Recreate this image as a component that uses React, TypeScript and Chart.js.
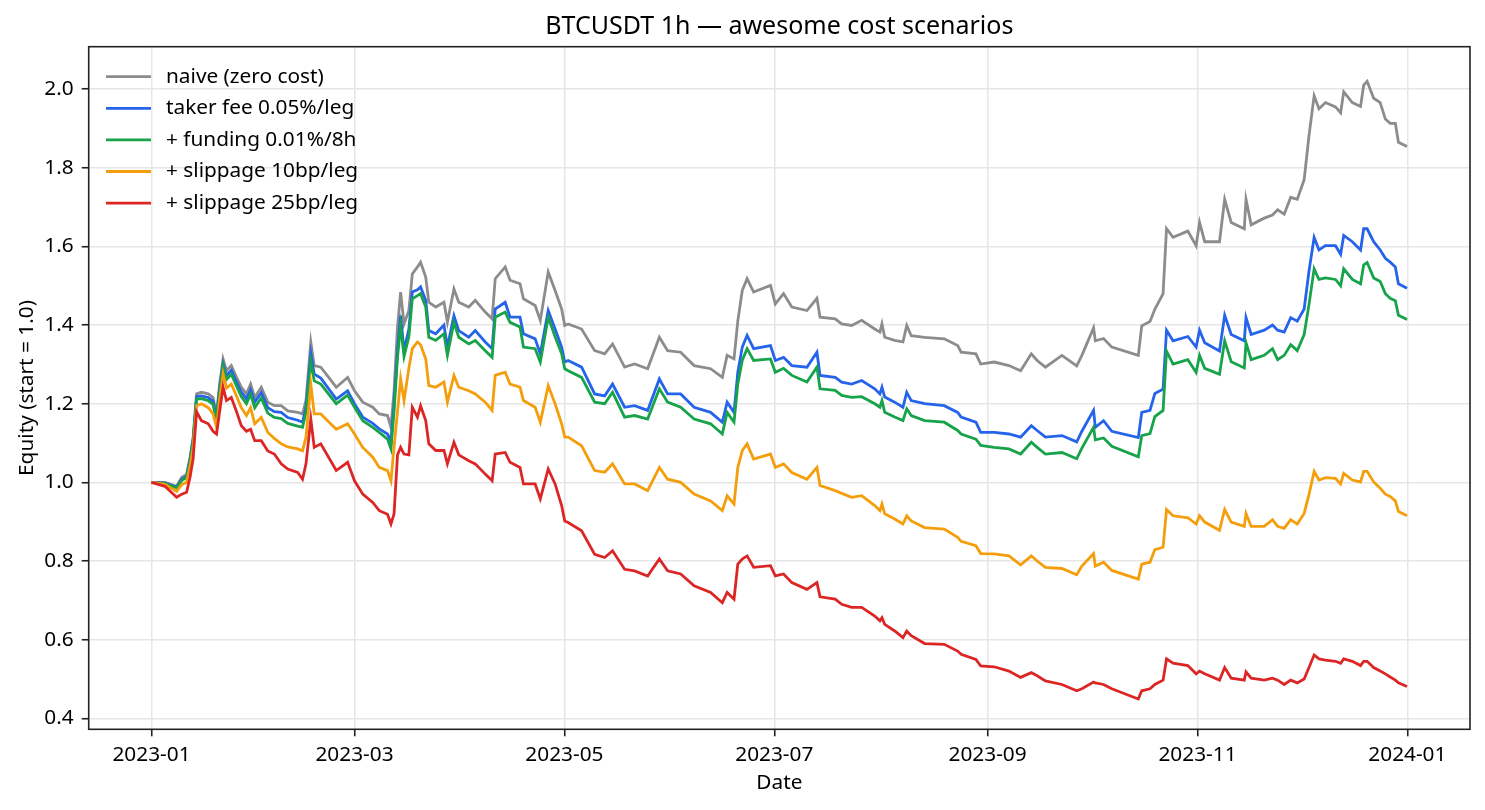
import React, { useEffect, useRef } from "react";
import { Chart, registerables } from "chart.js";

Chart.register(...registerables);

const FONT = "'Noto Sans', 'DejaVu Sans', sans-serif";
const TITLE = "BTCUSDT 1h — awesome cost scenarios";
const X_TITLE = "Date";
const Y_TITLE = "Equity (start = 1.0)";

// day offsets from 2023-01-01 00:00
const days = [
  0, 3.9, 7.3, 8.8, 10.2, 11.2, 12.1, 13.1, 14.5, 16.5, 17.9, 18.9, 19.8, 20.8, 21.8, 23.2, 24.7, 26.1, 27.6, 28.8, 30.0, 31.9, 33.8, 35.7, 37.7, 39.6, 42.5, 43.9, 44.9, 46.3, 47.3, 49.2,
  53.7, 57.0, 59.0, 61.4, 64.3, 66.2, 68.6, 69.6, 70.5, 71.5, 72.4, 73.4, 74.8, 75.8, 77.3, 78.2, 79.7, 80.6, 82.6, 85.0, 86.0, 87.9, 89.3, 92.2, 94.1, 97.0, 99.0, 99.9, 102.8, 104.2, 107.1, 108.1, 111.5, 113.0, 115.3, 117.3, 119.2, 120.1,
  121.1, 125.0, 128.8, 131.7, 134.0, 137.5, 140.4, 144.2, 147.6, 150.0, 153.8, 157.7, 162.5, 165.9, 167.3, 169.3, 170.4, 171.7, 173.1, 175.0, 179.9, 181.3, 183.7, 186.1, 190.5,
  193.4, 194.3, 198.7, 200.6, 203.5, 206.4, 210.2, 211.7, 212.3, 213.1, 216.0, 218.4, 219.5, 220.8, 224.7, 230.4, 234.3, 235.3, 239.6, 241.0, 244.9, 249.2, 252.6, 255.7, 257.4, 259.8,
  264.6, 268.9, 270.4, 273.8, 274.3, 276.7, 279.1, 286.8, 287.8, 290.2, 291.6, 294.0, 295.0, 296.9, 301.2, 303.6, 304.6, 306.1, 310.4, 311.9, 313.8, 317.6, 318.1,
  319.6, 323.4, 325.8, 327.3, 329.2, 331.1, 333.0, 335.0, 336.4, 337.9, 339.3, 341.2, 344.1, 345.6, 346.5, 349.0, 351.4, 352.3, 353.3, 355.2, 357.1, 358.6, 360.0, 361.5, 362.4, 364.9,
];

const naive = [
  1.0, 1.0, 0.99, 1.013, 1.02, 1.064, 1.115, 1.225, 1.229, 1.225, 1.216, 1.174, 1.25, 1.314, 1.284, 1.297, 1.267, 1.242, 1.225, 1.25, 1.216, 1.242, 1.204, 1.195, 1.195, 1.182, 1.178, 1.174, 1.208, 1.357, 1.297, 1.293,
  1.242, 1.267, 1.233, 1.204, 1.191, 1.174, 1.17, 1.14, 1.233, 1.395, 1.484, 1.403, 1.437, 1.53, 1.548, 1.56, 1.522, 1.458, 1.446, 1.458, 1.407, 1.492, 1.458, 1.446, 1.463, 1.433, 1.416, 1.518, 1.548, 1.514, 1.505, 1.467, 1.45, 1.412, 1.535, 1.488, 1.441, 1.399,
  1.403, 1.39, 1.335, 1.327, 1.352, 1.293, 1.301, 1.289, 1.369, 1.335, 1.331, 1.297, 1.289, 1.267, 1.323, 1.314, 1.41, 1.488, 1.518, 1.484, 1.501, 1.454, 1.48, 1.446, 1.437,
  1.468, 1.42, 1.416, 1.403, 1.399, 1.412, 1.39, 1.382, 1.403, 1.369, 1.361, 1.357, 1.399, 1.373, 1.369, 1.365, 1.348, 1.331, 1.327, 1.301, 1.306, 1.297, 1.284, 1.327, 1.31, 1.293,
  1.323, 1.296, 1.323, 1.393, 1.36, 1.366, 1.344, 1.323, 1.398, 1.409, 1.44, 1.48, 1.645, 1.623, 1.639, 1.602, 1.661, 1.612, 1.612, 1.72, 1.661, 1.645, 1.72,
  1.655, 1.672, 1.68, 1.693, 1.682, 1.725, 1.72, 1.77, 1.881, 1.983, 1.95, 1.966, 1.955, 1.94, 1.993, 1.966, 1.956, 2.01, 2.02, 1.977, 1.966, 1.924, 1.913, 1.913, 1.865, 1.854,
];

const takerFee = [
  1.0, 0.998, 0.988, 1.008, 1.015, 1.058, 1.108, 1.218, 1.22, 1.216, 1.206, 1.163, 1.24, 1.301, 1.272, 1.285, 1.255, 1.23, 1.212, 1.236, 1.204, 1.228, 1.19, 1.18, 1.178, 1.165, 1.158, 1.153, 1.19, 1.327, 1.275, 1.265,
  1.212, 1.233, 1.2, 1.166, 1.15, 1.136, 1.123, 1.106, 1.2, 1.335, 1.424, 1.335, 1.39, 1.484, 1.49, 1.497, 1.463, 1.386, 1.378, 1.4, 1.344, 1.424, 1.386, 1.369, 1.386, 1.357, 1.34, 1.441, 1.458, 1.42, 1.42, 1.378, 1.365, 1.327, 1.437, 1.39, 1.344, 1.306,
  1.31, 1.293, 1.225, 1.22, 1.25, 1.191, 1.195, 1.183, 1.263, 1.225, 1.225, 1.191, 1.178, 1.153, 1.204, 1.178, 1.28, 1.344, 1.374, 1.34, 1.348, 1.31, 1.318, 1.297, 1.293,
  1.331, 1.272, 1.267, 1.255, 1.25, 1.259, 1.238, 1.225, 1.242, 1.217, 1.204, 1.191, 1.229, 1.208, 1.2, 1.195, 1.178, 1.166, 1.153, 1.127, 1.127, 1.123, 1.115, 1.144, 1.132, 1.115,
  1.119, 1.103, 1.13, 1.183, 1.14, 1.157, 1.13, 1.114, 1.178, 1.183, 1.226, 1.237, 1.387, 1.36, 1.371, 1.344, 1.387, 1.355, 1.334, 1.425, 1.376, 1.36, 1.419,
  1.376, 1.387, 1.4, 1.387, 1.382, 1.419, 1.41, 1.441, 1.537, 1.623, 1.591, 1.602, 1.602, 1.58, 1.628, 1.612, 1.591, 1.645, 1.645, 1.612, 1.591, 1.57, 1.56, 1.548, 1.505, 1.494,
];

const funding = [
  1.0, 0.997, 0.986, 1.005, 1.012, 1.054, 1.104, 1.212, 1.213, 1.208, 1.198, 1.155, 1.232, 1.296, 1.262, 1.275, 1.245, 1.218, 1.2, 1.224, 1.19, 1.215, 1.176, 1.165, 1.162, 1.15, 1.143, 1.14, 1.178, 1.306, 1.258, 1.25,
  1.2, 1.222, 1.191, 1.157, 1.14, 1.127, 1.11, 1.085, 1.18, 1.318, 1.399, 1.32, 1.37, 1.467, 1.475, 1.48, 1.446, 1.369, 1.361, 1.378, 1.323, 1.407, 1.369, 1.352, 1.361, 1.335, 1.318, 1.42, 1.433, 1.407, 1.395, 1.344, 1.34, 1.306, 1.42, 1.37, 1.327, 1.289,
  1.284, 1.267, 1.204, 1.2, 1.229, 1.166, 1.17, 1.161, 1.238, 1.204, 1.191, 1.161, 1.149, 1.123, 1.178, 1.153, 1.25, 1.31, 1.34, 1.31, 1.314, 1.28, 1.29, 1.272, 1.255,
  1.293, 1.238, 1.234, 1.221, 1.216, 1.218, 1.2, 1.191, 1.208, 1.178, 1.166, 1.157, 1.187, 1.17, 1.157, 1.153, 1.132, 1.123, 1.11, 1.094, 1.089, 1.085, 1.072, 1.102, 1.089, 1.072,
  1.076, 1.06, 1.087, 1.14, 1.108, 1.113, 1.092, 1.065, 1.119, 1.124, 1.167, 1.183, 1.334, 1.301, 1.312, 1.28, 1.323, 1.29, 1.275, 1.36, 1.307, 1.291, 1.355,
  1.312, 1.323, 1.34, 1.312, 1.323, 1.35, 1.335, 1.376, 1.452, 1.543, 1.516, 1.52, 1.516, 1.5, 1.543, 1.516, 1.505, 1.553, 1.559, 1.52, 1.511, 1.48, 1.468, 1.462, 1.425, 1.414,
];

const slip10 = [
  1.0, 0.995, 0.977, 0.995, 1.0, 1.04, 1.088, 1.195, 1.2, 1.19, 1.174, 1.14, 1.21, 1.276, 1.24, 1.25, 1.22, 1.19, 1.17, 1.19, 1.149, 1.165, 1.127, 1.112, 1.098, 1.09, 1.085, 1.08, 1.115, 1.25, 1.174, 1.174,
  1.135, 1.149, 1.123, 1.089, 1.064, 1.038, 1.03, 1.004, 1.09, 1.18, 1.263, 1.208, 1.29, 1.34, 1.357, 1.35, 1.314, 1.246, 1.242, 1.255, 1.204, 1.272, 1.242, 1.233, 1.225, 1.204, 1.183, 1.272, 1.28, 1.25, 1.242, 1.208, 1.191, 1.153, 1.246, 1.2, 1.149, 1.115,
  1.115, 1.093, 1.03, 1.026, 1.047, 0.996, 0.996, 0.979, 1.038, 1.008, 1.0, 0.97, 0.953, 0.928, 0.966, 0.945, 1.038, 1.081, 1.098, 1.059, 1.072, 1.038, 1.047, 1.025, 1.008,
  1.038, 0.992, 0.979, 0.972, 0.962, 0.966, 0.941, 0.928, 0.945, 0.92, 0.907, 0.894, 0.915, 0.902, 0.885, 0.881, 0.86, 0.85, 0.839, 0.819, 0.818, 0.813, 0.79, 0.813, 0.8, 0.784,
  0.781, 0.765, 0.787, 0.819, 0.787, 0.797, 0.776, 0.754, 0.792, 0.797, 0.829, 0.835, 0.931, 0.915, 0.91, 0.894, 0.915, 0.899, 0.878, 0.931, 0.899, 0.888, 0.921,
  0.888, 0.888, 0.905, 0.888, 0.883, 0.905, 0.894, 0.921, 0.969, 1.028, 1.006, 1.012, 1.01, 0.996, 1.023, 1.006, 1.001, 1.028, 1.028, 1.001, 0.985, 0.97, 0.964, 0.953, 0.926, 0.915,
];

const slip25 = [
  1.0, 0.99, 0.962, 0.97, 0.975, 1.013, 1.06, 1.18, 1.157, 1.149, 1.13, 1.123, 1.18, 1.242, 1.208, 1.216, 1.18, 1.144, 1.13, 1.135, 1.106, 1.106, 1.08, 1.072, 1.047, 1.034, 1.025, 1.008, 1.047, 1.161, 1.089, 1.098,
  1.03, 1.051, 1.004, 0.97, 0.949, 0.928, 0.919, 0.894, 0.92, 1.07, 1.089, 1.072, 1.07, 1.191, 1.166, 1.195, 1.157, 1.098, 1.081, 1.081, 1.047, 1.102, 1.07, 1.055, 1.047, 1.021, 1.004, 1.072, 1.076, 1.051, 1.038, 0.996, 0.996, 0.958, 1.034, 0.996, 0.941, 0.902,
  0.898, 0.877, 0.817, 0.809, 0.826, 0.779, 0.775, 0.762, 0.805, 0.775, 0.767, 0.737, 0.72, 0.694, 0.72, 0.703, 0.792, 0.805, 0.813, 0.784, 0.788, 0.762, 0.767, 0.745, 0.728,
  0.745, 0.709, 0.703, 0.69, 0.682, 0.682, 0.66, 0.648, 0.656, 0.639, 0.622, 0.605, 0.622, 0.61, 0.59, 0.588, 0.571, 0.563, 0.55, 0.533, 0.531, 0.52, 0.504, 0.516, 0.508, 0.495,
  0.486, 0.47, 0.475, 0.492, 0.49, 0.486, 0.475, 0.449, 0.47, 0.475, 0.486, 0.497, 0.551, 0.54, 0.534, 0.513, 0.52, 0.513, 0.497, 0.529, 0.502, 0.497, 0.518,
  0.502, 0.497, 0.502, 0.497, 0.486, 0.497, 0.49, 0.5, 0.529, 0.561, 0.551, 0.548, 0.545, 0.54, 0.551, 0.545, 0.534, 0.545, 0.545, 0.529, 0.52, 0.513, 0.505, 0.497, 0.49, 0.481,
];

const seriesNames = [
  "naive (zero cost)",
  "taker fee 0.05%/leg",
  "+ funding 0.01%/8h",
  "+ slippage 10bp/leg",
  "+ slippage 25bp/leg",
];
const seriesColors = ["#8c8c8c", "#2563eb", "#16a34a", "#f59e0b", "#dc2626"];
const seriesValues = [naive, takerFee, funding, slip10, slip25];

const xTickDays = [0, 59, 120, 181, 243, 304, 365];
const xTickLabels = ["2023-01", "2023-03", "2023-05", "2023-07", "2023-09", "2023-11", "2024-01"];
const yTickValues = [0.4, 0.6, 0.8, 1.0, 1.2, 1.4, 1.6, 1.8, 2.0];

const decorPlugin = {
  id: "decor",
  afterDraw(chart: any) {
    const { ctx, chartArea: ca } = chart;
    ctx.save();
    ctx.strokeStyle = "#222";
    ctx.lineWidth = 1.6;
    ctx.strokeRect(ca.left, ca.top, ca.right - ca.left, ca.bottom - ca.top);

    ctx.fillStyle = "#000";
    ctx.textAlign = "center";
    ctx.textBaseline = "middle";
    const cx = (ca.left + ca.right) / 2;
    ctx.font = `25px ${FONT}`;
    ctx.fillText(TITLE, cx, 27);
    ctx.font = `20.8px ${FONT}`;
    ctx.fillText(X_TITLE, cx, 783);
    ctx.save();
    ctx.translate(27, (ca.top + ca.bottom) / 2);
    ctx.rotate(-Math.PI / 2);
    ctx.fillText(Y_TITLE, 0, 0);
    ctx.restore();

    // legend
    ctx.textAlign = "left";
    for (let i = 0; i < seriesNames.length; i++) {
      const y = 76.7 + i * 31.6;
      ctx.strokeStyle = seriesColors[i];
      ctx.lineWidth = 2.8;
      ctx.beginPath();
      ctx.moveTo(106, y);
      ctx.lineTo(151, y);
      ctx.stroke();
      ctx.fillStyle = "#000";
      ctx.fillText(seriesNames[i], 166, y);
    }
    ctx.restore();
  },
};

export default function App() {
  const ref = useRef<HTMLCanvasElement | null>(null);

  useEffect(() => {
    if (!ref.current) return;
    const datasets = seriesValues.map((vals, i) => ({
      label: seriesNames[i],
      data: days.map((d, j) => ({ x: d, y: vals[j] })),
      borderColor: seriesColors[i],
      backgroundColor: seriesColors[i],
      borderWidth: 2.8,
      pointRadius: 0,
      tension: 0,
      fill: false,
      order: seriesNames.length - 1 - i,
    }));
    const chart = new Chart(ref.current, {
      type: "line",
      data: { datasets },
      options: {
        animation: false,
        responsive: false,
        maintainAspectRatio: false,
        layout: { padding: { top: 46.7, right: 15, bottom: 0, left: 0 } },
        plugins: {
          legend: { display: false },
          title: { display: false },
          tooltip: { enabled: false },
        },
        scales: {
          x: {
            type: "linear",
            min: -18.25,
            max: 383.2,
            afterBuildTicks: (s: any) => {
              s.ticks = xTickDays.map((v) => ({ value: v }));
            },
            afterFit: (s: any) => {
              s.height = 80.7;
            },
            ticks: {
              autoSkip: false,
              maxRotation: 0,
              minRotation: 0,
              padding: 6,
              color: "#000",
              font: { family: FONT, size: 20.8 },
              callback: (_v: any, i: number) => xTickLabels[i],
            },
            grid: {
              color: "#e6e6e6",
              lineWidth: 1.5,
              drawTicks: true,
              tickLength: 7,
              tickColor: "#222",
              tickWidth: 1.6,
            },
            border: { display: false },
          },
          y: {
            type: "linear",
            min: 0.372,
            max: 2.108,
            afterBuildTicks: (s: any) => {
              s.ticks = yTickValues.map((v) => ({ value: v }));
            },
            afterFit: (s: any) => {
              s.width = 88.7;
            },
            ticks: {
              padding: 8,
              color: "#000",
              font: { family: FONT, size: 20.8 },
              callback: (v: any) => Number(v).toFixed(1),
            },
            grid: {
              color: "#e6e6e6",
              lineWidth: 1.5,
              drawTicks: true,
              tickLength: 7,
              tickColor: "#222",
              tickWidth: 1.6,
            },
            border: { display: false },
          },
        },
      },
      plugins: [decorPlugin],
    });
    return () => chart.destroy();
  }, []);

  return (
    <div
      style={{
        position: "fixed",
        left: 0,
        top: 0,
        width: 1485,
        height: 810,
        background: "#fff",
      }}
    >
      <canvas ref={ref} width={1485} height={810} style={{ width: 1485, height: 810 }} />
    </div>
  );
}
